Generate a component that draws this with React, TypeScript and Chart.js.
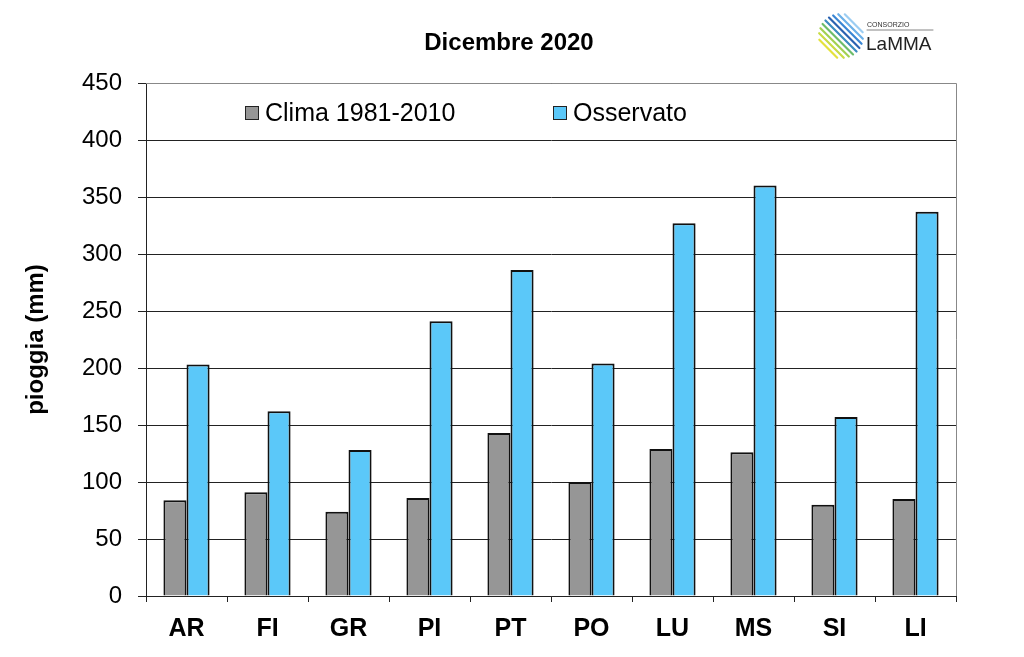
import React, { useEffect, useRef } from "react";
import { Chart, registerables } from "chart.js";

Chart.register(...registerables);

const categories = ["AR", "FI", "GR", "PI", "PT", "PO", "LU", "MS", "SI", "LI"];
const clima = [84, 91, 74, 86, 143, 100, 129, 126, 80, 85];
const osservato = [203, 162, 128, 241, 286, 204, 327, 360, 157, 337];
const seriesLabels = ["Clima 1981-2010", "Osservato"];
const titleText = "Dicembre 2020";
const yTitle = "pioggia (mm)";

const FONT = "'Liberation Sans', Arial, sans-serif";

const stripeColors = [
  "#e4e23c", "#c8dc46", "#a2d052", "#6cbc6a", "#3c8cc0",
  "#2a62b0", "#3a86d4", "#6cb0e8", "#9ccdf2",
];

const decorPlugin = {
  id: "decor",
  afterDraw(chart: any) {
    const ctx = chart.ctx;
    const a = chart.chartArea;
    ctx.save();
    // plot border (top & right)
    ctx.strokeStyle = "#888";
    ctx.lineWidth = 1;
    ctx.beginPath();
    ctx.moveTo(a.left, a.top + 0.5);
    ctx.lineTo(a.right + 0.5, a.top + 0.5);
    ctx.lineTo(a.right + 0.5, a.bottom);
    ctx.stroke();

    // title
    ctx.fillStyle = "#000";
    ctx.font = `bold 24px ${FONT}`;
    ctx.textAlign = "center";
    ctx.textBaseline = "middle";
    ctx.fillText(titleText, 509, 43);

    // legend
    ctx.font = `25px ${FONT}`;
    ctx.textAlign = "left";
    const items = [
      { x: 245, color: chart.data.datasets[0].backgroundColor, label: chart.data.datasets[0].label },
      { x: 553, color: chart.data.datasets[1].backgroundColor, label: chart.data.datasets[1].label },
    ];
    items.forEach((it) => {
      ctx.fillStyle = it.color;
      ctx.fillRect(it.x, 106, 13, 13);
      ctx.strokeStyle = "#222";
      ctx.lineWidth = 1;
      ctx.strokeRect(it.x + 0.5, 106.5, 13, 13);
      ctx.fillStyle = "#000";
      ctx.fillText(it.label, it.x + 20, 114);
    });

    // logo: striped disc
    const cx = 841, cy = 36, r = 22;
    ctx.lineCap = "round";
    ctx.lineWidth = 2.2;
    const n = stripeColors.length;
    stripeColors.forEach((c, i) => {
      const d = -18 + (36 * i) / (n - 1);
      const half = Math.sqrt(Math.max(r * r - d * d, 0));
      const px = cx + d * 0.7071;
      const py = cy - d * 0.7071;
      ctx.strokeStyle = c;
      ctx.beginPath();
      ctx.moveTo(px - half * 0.7071, py - half * 0.7071);
      ctx.lineTo(px + half * 0.7071, py + half * 0.7071);
      ctx.stroke();
    });
    ctx.textBaseline = "alphabetic";
    ctx.fillStyle = "#333";
    ctx.font = `7px ${FONT}`;
    ctx.fillText("CONSORZIO", 867, 27);
    ctx.strokeStyle = "#666";
    ctx.lineWidth = 0.8;
    ctx.beginPath();
    ctx.moveTo(867, 30);
    ctx.lineTo(933, 30);
    ctx.stroke();
    ctx.font = `19px ${FONT}`;
    ctx.fillStyle = "#222";
    ctx.fillText("LaMMA", 866, 50);
    ctx.restore();
  },
};

export default function App() {
  const ref = useRef<HTMLCanvasElement>(null);
  useEffect(() => {
    if (!ref.current) return;
    const chart = new Chart(ref.current, {
      type: "bar",
      data: {
        labels: categories,
        datasets: [
          {
            label: seriesLabels[0],
            data: clima,
            backgroundColor: "#969696",
            borderColor: "#111",
            borderWidth: 2,
            borderSkipped: "bottom",
          },
          {
            label: seriesLabels[1],
            data: osservato,
            backgroundColor: "#5bc8f9",
            borderColor: "#111",
            borderWidth: 2,
            borderSkipped: "bottom",
          },
        ],
      },
      options: {
        animation: false,
        responsive: false,
        maintainAspectRatio: false,
        layout: { padding: { left: 0, right: 68, top: 83, bottom: 0 } },
        datasets: { bar: { categoryPercentage: 0.57, barPercentage: 1 } },
        plugins: {
          legend: { display: false },
          title: { display: false },
          tooltip: { enabled: false },
        },
        scales: {
          x: {
            afterFit: (s: any) => {
              s.height = 61;
            },
            grid: {
              offset: true,
              drawOnChartArea: false,
              drawTicks: true,
              tickLength: 6,
              color: "#222",
            },
            border: { color: "#222", width: 1 },
            ticks: {
              color: "#000",
              padding: 12,
              font: { family: FONT, size: 25, weight: "bold" },
            },
          },
          y: {
            min: 0,
            max: 450,
            afterFit: (s: any) => {
              s.width = 146;
            },
            grid: {
              color: "#222",
              lineWidth: 1,
              drawTicks: true,
              tickLength: 8,
            },
            border: { color: "#222", width: 1 },
            ticks: {
              stepSize: 50,
              color: "#000",
              padding: 16,
              font: { family: FONT, size: 24 },
            },
            title: {
              display: true,
              text: yTitle,
              color: "#000",
              padding: { top: 22, bottom: 0 },
              font: { family: FONT, size: 24, weight: "bold" },
            },
          },
        },
      },
      plugins: [decorPlugin],
    });
    return () => chart.destroy();
  }, []);
  return (
    <div style={{ position: "fixed", left: 0, top: 0, width: 1024, height: 657, background: "#fff" }}>
      <canvas ref={ref} width={1024} height={657} style={{ display: "block" }} />
    </div>
  );
}
